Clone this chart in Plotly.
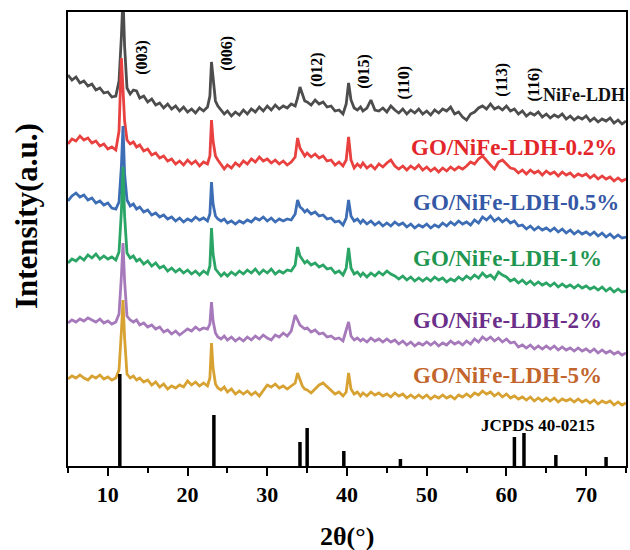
import plotly.graph_objects as go

# 2-theta sampling grid (degrees), shared by all patterns
two_theta = [
    5.0, 5.5, 6.0, 6.5, 7.0, 7.5, 8.0, 8.5, 9.0, 9.5,
    10.0, 10.5, 11.0, 11.4, 11.7, 11.9, 12.1, 12.4, 12.8, 13.2,
    13.6, 14.0, 14.5, 15.0, 15.5, 16.0, 16.5, 17.0, 17.5, 18.0,
    18.5, 19.0, 19.5, 20.0, 20.5, 21.0, 21.5, 22.0, 22.5, 22.8,
    23.0, 23.2, 23.5, 23.8, 24.2, 24.6, 25.0, 25.5, 26.0, 26.5,
    27.0, 27.5, 28.0, 28.5, 29.0, 29.5, 30.0, 30.5, 31.0, 31.5,
    32.0, 32.5, 33.0, 33.5, 33.8, 34.1, 34.4, 34.7, 35.0, 35.5,
    36.0, 36.5, 37.0, 37.5, 38.0, 38.5, 39.0, 39.5, 39.9, 40.2,
    40.5, 40.9, 41.3, 41.7, 42.0, 42.5, 43.0, 43.5, 44.0, 44.5,
    45.0, 45.5, 46.0, 46.5, 47.0, 47.5, 48.0, 48.5, 49.0, 49.5,
    50.0, 50.5, 51.0, 51.5, 52.0, 52.5, 53.0, 53.5, 54.0, 54.5,
    55.0, 55.5, 56.0, 56.5, 57.0, 57.5, 58.0, 58.5, 59.0, 59.5,
    60.0, 60.5, 61.0, 61.5, 62.0, 62.5, 63.0, 63.5, 64.0, 64.5,
    65.0, 65.5, 66.0, 66.5, 67.0, 67.5, 68.0, 68.5, 69.0, 69.5,
    70.0, 70.5, 71.0, 71.5, 72.0, 72.5, 73.0, 73.5, 74.0, 74.5,
    75.0,
]

# Stacked intensities (a.u., vertically offset patterns)
nife_ldh = [
    391, 386, 389, 383, 385, 380, 382, 376, 378, 373,
    374, 369, 370, 385, 430, 470, 420, 378, 372, 376,
    375, 368, 370, 364, 367, 361, 363, 358, 362, 357,
    360, 355, 359, 354, 357, 353, 358, 355, 359, 370,
    404, 385, 365, 360, 356, 352, 355, 350, 354, 351,
    356, 352, 357, 354, 359, 355, 360, 356, 361, 357,
    360, 358, 362, 360, 368, 379, 372, 365, 364, 361,
    366, 362, 364, 359, 360, 355, 356, 352, 362, 383,
    366, 358, 356, 359, 355, 358, 366, 356, 355, 358,
    354, 360, 356, 353, 357, 352, 356, 353, 357, 352,
    355, 351, 356, 353, 357, 355, 359, 352, 354, 349,
    346, 352, 354, 358, 360, 357, 362, 357, 359, 356,
    360, 355, 357, 352, 355, 350, 353, 351, 354, 349,
    352, 348, 351, 349, 352, 347, 350, 346, 349, 347,
    350, 345, 348, 344, 347, 345, 348, 343, 346, 342,
    345,
]

go_02 = [
    322, 327, 325, 330, 326, 328, 323, 325, 320, 322,
    317, 319, 316, 335, 408, 380, 345, 326, 322, 324,
    319, 321, 315, 317, 311, 313, 308, 310, 305, 307,
    302, 305, 301, 306, 302, 305, 300, 304, 302, 310,
    346, 325, 310, 306, 302, 297, 301, 298, 303, 300,
    305, 302, 307, 304, 309, 305, 307, 303, 306, 302,
    305, 301, 304, 309, 328, 318, 314, 310, 313, 309,
    312, 308, 310, 305, 306, 301, 304, 300, 306, 329,
    306, 298, 302, 299, 303, 298, 301, 297, 302, 299,
    303, 306, 300, 297, 300, 296, 300, 297, 301, 296,
    299, 295, 298, 294, 298, 295, 299, 296, 299, 297,
    300, 304, 302, 307, 310, 305, 301, 297, 304, 306,
    302, 298, 297, 293, 296, 292, 296, 293, 295, 291,
    295, 292, 294, 290, 294, 291, 293, 289, 292, 290,
    292, 288, 291, 287, 290, 287, 289, 285, 288, 285,
    287,
]

go_05 = [
    265, 270, 273, 269, 271, 266, 268, 263, 265, 261,
    263, 258, 257, 264, 300, 340, 292, 266, 260, 262,
    257, 259, 254, 256, 251, 253, 249, 251, 247, 249,
    245, 248, 244, 247, 245, 249, 246, 248, 245, 252,
    284, 262, 250, 247, 245, 247, 243, 245, 242, 245,
    243, 246, 244, 248, 246, 249, 245, 248, 244, 247,
    245, 247, 246, 252, 266, 259, 257, 254, 256, 252,
    254, 250, 251, 247, 248, 244, 245, 241, 248, 266,
    250, 245, 247, 243, 246, 242, 245, 241, 244, 240,
    243, 240, 244, 241, 243, 239, 242, 238, 241, 239,
    242, 238, 241, 239, 243, 240, 244, 241, 245, 242,
    244, 241, 246, 243, 249, 246, 250, 245, 248, 244,
    247, 243, 245, 240, 241, 237, 240, 236, 239, 236,
    238, 235, 238, 234, 237, 233, 236, 232, 235, 232,
    234, 231, 234, 230, 233, 229, 232, 228, 231, 228,
    229,
]

go_1 = [
    203, 207, 205, 209, 206, 211, 208, 212, 207, 210,
    207, 209, 206, 214, 255, 299, 250, 213, 208, 210,
    205, 207, 202, 205, 200, 203, 198, 200, 195, 198,
    194, 197, 193, 196, 192, 195, 191, 195, 192, 200,
    238, 212, 197, 194, 190, 193, 190, 194, 191, 195,
    192, 196, 193, 197, 192, 196, 193, 197, 192, 195,
    193, 196, 195, 201, 219, 210, 206, 203, 205, 201,
    203, 199, 201, 197, 198, 193, 195, 191, 198, 218,
    198, 192, 194, 190, 193, 189, 193, 190, 194, 191,
    195, 192, 190, 187, 190, 186, 189, 185, 188, 185,
    188, 185, 189, 186, 188, 184, 187, 185, 189, 186,
    190, 187, 191, 188, 193, 189, 191, 187, 194, 191,
    189, 185, 187, 183, 186, 182, 185, 181, 184, 181,
    183, 180, 183, 179, 182, 179, 181, 178, 181, 178,
    180, 177, 179, 176, 179, 175, 178, 174, 177, 174,
    175,
]

go_2 = [
    143, 146, 144, 147, 145, 148, 146, 144, 147, 143,
    145, 142, 144, 152, 190, 223, 185, 150, 146, 144,
    146, 141, 143, 139, 141, 137, 139, 134, 136, 132,
    135, 131, 134, 137, 135, 139, 136, 138, 137, 142,
    164, 145, 133, 129, 127, 130, 126, 129, 125, 128,
    125, 129, 126, 130, 127, 131, 128, 126, 131, 129,
    133, 130, 135, 151, 146, 141, 139, 137, 138, 134,
    136, 132, 133, 129, 130, 127, 128, 125, 136, 144,
    130, 126, 128, 125, 127, 124, 128, 125, 127, 124,
    127, 124, 126, 122, 125, 121, 124, 120, 123, 121,
    124, 121, 124, 120, 123, 121, 125, 122, 124, 121,
    125, 122, 127, 124, 129, 126, 129, 125, 128, 124,
    127, 123, 124, 119, 121, 118, 121, 117, 120, 117,
    120, 117, 120, 116, 119, 116, 118, 115, 118, 115,
    117, 114, 117, 113, 116, 113, 115, 112, 114, 111,
    113,
]

go_5 = [
    87, 90, 88, 91, 88, 86, 90, 88, 91, 87,
    89, 86, 88, 96, 135, 166, 128, 92, 88, 90,
    86, 88, 84, 86, 81, 84, 79, 82, 77, 80,
    78, 81, 79, 85, 81, 84, 80, 83, 80, 88,
    123, 98, 82, 78, 76, 79, 74, 77, 72, 75,
    72, 75, 71, 74, 70, 76, 81, 79, 82, 78,
    80, 77, 80, 83, 93, 86, 80, 77, 76, 73,
    77, 81, 83, 79, 75, 72, 74, 70, 74, 93,
    77, 72, 74, 70, 73, 70, 74, 71, 73, 70,
    72, 69, 73, 70, 72, 68, 71, 68, 71, 68,
    71, 67, 70, 68, 71, 68, 70, 67, 71, 69,
    72, 69, 73, 71, 75, 72, 74, 70, 73, 69,
    72, 68, 70, 67, 69, 66, 69, 65, 68, 65,
    68, 65, 68, 64, 67, 65, 67, 64, 67, 64,
    66, 63, 66, 62, 65, 63, 65, 61, 64, 61,
    63,
]

# Standard reference pattern JCPDS 40-0215 (stick positions / relative heights)
ref_pos = [11.5, 23.3, 34.1, 35.0, 39.6, 46.7, 61.0, 62.2, 66.2, 72.5]
ref_height = [92, 51, 24, 38, 15, 7, 29, 33, 11, 9]

# Miller indices and where their labels sit (2-theta, intensity)
hkl_labels = ["(003)", "(006)", "(012)", "(015)", "(110)", "(113)", "(116)"]
hkl_x = [14.25, 24.9, 36.25, 42.1, 47.1, 59.4, 63.4]
hkl_y = [409, 413, 396, 395, 383, 386, 381]

series = [
    ("NiFe-LDH", nife_ldh, "#4d4d4d", "#111111", 69.75, 371, 18),
    ("GO/NiFe-LDH-0.2%", go_02, "#e8413f", "#e3262a", 61.0, 319, 23),
    ("GO/NiFe-LDH-0.5%", go_05, "#3d6db5", "#3558a6", 61.2, 264, 23),
    ("GO/NiFe-LDH-1%", go_1, "#2aa565", "#1f9650", 60.1, 208, 23),
    ("GO/NiFe-LDH-2%", go_2, "#a679bb", "#6b2f8a", 60.1, 146, 23),
    ("GO/NiFe-LDH-5%", go_5, "#d8a233", "#c2652c", 60.1, 91, 23),
]

SERIF = "Liberation Serif, Times New Roman, serif"

fig = go.Figure()

for name, vals, line_col, _, _, _, _ in series:
    fig.add_trace(go.Scatter(
        x=two_theta, y=vals, mode="lines", name=name,
        line=dict(color=line_col, width=2.8), showlegend=False,
    ))

# stick pattern
sx, sy = [], []
for p, h in zip(ref_pos, ref_height):
    sx += [p, p, None]
    sy += [0, h, None]
fig.add_trace(go.Scatter(
    x=sx, y=sy, mode="lines", line=dict(color="black", width=3.5),
    showlegend=False, name="JCPDS 40-0215",
))

annotations = []
for t, x, y in zip(hkl_labels, hkl_x, hkl_y):
    annotations.append(dict(
        x=x, y=y, xref="x", yref="y", text=f"<b>{t}</b>", textangle=-90,
        showarrow=False, font=dict(family=SERIF, size=16, color="black"),
    ))

for name, _, _, txt_col, lx, ly, fs in series:
    annotations.append(dict(
        x=lx, y=ly, xref="x", yref="y", text=f"<b>{name}</b>", showarrow=False,
        font=dict(family=SERIF, size=fs, color=txt_col),
    ))

annotations.append(dict(
    x=64.0, y=41, xref="x", yref="y", text="<b>JCPDS 40-0215</b>", showarrow=False,
    font=dict(family=SERIF, size=17, color="black"),
))

# axis titles
annotations.append(dict(
    x=-0.073, y=0.551, xref="paper", yref="paper", xanchor="center", yanchor="middle",
    text="<b>Intensity(a.u.)</b>", textangle=-90, showarrow=False,
    font=dict(family=SERIF, size=31, color="black"),
))
annotations.append(dict(
    x=0.5, y=-0.156, xref="paper", yref="paper", xanchor="center", yanchor="middle",
    text="<b>2θ(°)</b>", showarrow=False,
    font=dict(family=SERIF, size=26, color="black"),
))

fig.update_layout(
    width=630, height=550,
    margin=dict(l=68, r=2, t=12, b=84),
    plot_bgcolor="white", paper_bgcolor="white",
    annotations=annotations,
    xaxis=dict(
        range=[5, 75], tick0=0, dtick=10, ticks="outside", ticklen=8, tickwidth=2,
        tickcolor="black", showline=True, linewidth=2, linecolor="black", mirror=True,
        showgrid=False, zeroline=False,
        tickfont=dict(family=SERIF, size=22, color="black", weight="bold"),
        minor=dict(dtick=5, tick0=0, ticks="outside", ticklen=5, tickwidth=2, tickcolor="black"),
    ),
    yaxis=dict(
        range=[0, 454], showticklabels=False, ticks="", showline=True, linewidth=2,
        linecolor="black", mirror=True, showgrid=False, zeroline=False,
    ),
)

fig.write_html("out.html")
